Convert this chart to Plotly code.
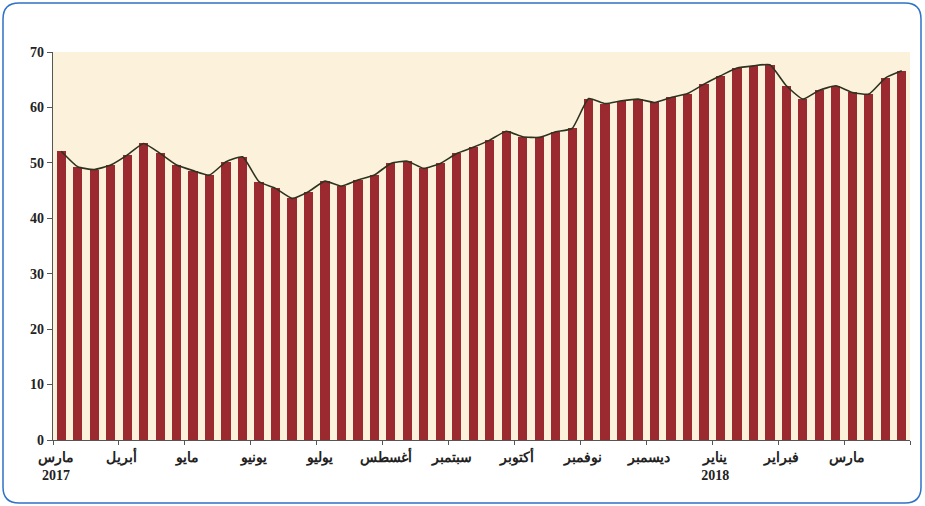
import plotly.graph_objects as go

# Weekly values, March 2017 - March 2018
values = [52.1, 49.3, 48.8, 49.6, 51.4, 53.5, 51.7, 49.6, 48.6, 47.8, 50.2, 51.1, 46.6,
          45.4, 43.6, 44.8, 46.7, 45.8, 46.9, 47.8, 49.9, 50.3, 49.0, 49.9, 51.7, 52.8,
          54.1, 55.7, 54.7, 54.6, 55.6, 56.2, 61.6, 60.7, 61.2, 61.5, 60.9, 61.8, 62.5,
          64.2, 65.7, 67.1, 67.5, 67.7, 63.9, 61.5, 63.1, 63.9, 62.7, 62.4, 65.3, 66.6]
month_labels = ["مارس<br>2017", "أبريل", "مايو", "يونيو", "يوليو", "أغسطس", "سبتمبر",
                "أكتوبر", "نوفمبر", "ديسمبر", "يناير<br>2018", "فبراير", "مارس", ""]
weeks_per_month = 4
y_ticks = [0, 10, 20, 30, 40, 50, 60, 70]

x = [i + 0.5 for i in range(len(values))]
tick_positions = [i * weeks_per_month for i in range(len(month_labels))]

W, H = 925, 506
L, R, T, B = 53, 15, 52, 66
pw, ph = W - L - R, H - T - B

fig = go.Figure()
fig.add_trace(go.Bar(x=x, y=values, width=0.56, marker=dict(color="#9B2A30", line=dict(width=0)),
                     hoverinfo="y"))
fig.add_trace(go.Scatter(x=x, y=values, mode="lines",
                         line=dict(color="#2E3320", width=1.6, shape="spline", smoothing=0.45),
                         hoverinfo="skip"))

# rounded frame
def px2paper(px, py):
    return (px - L) / pw, (H - B - py) / ph

x0, y0, x1, y1, r = 3, 3, 921, 503, 16
def P(px, py):
    a, b = px2paper(px, py)
    return f"{a:.5f},{b:.5f}"
path = (f"M {P(x0 + r, y0)} L {P(x1 - r, y0)} Q {P(x1, y0)} {P(x1, y0 + r)} "
        f"L {P(x1, y1 - r)} Q {P(x1, y1)} {P(x1 - r, y1)} "
        f"L {P(x0 + r, y1)} Q {P(x0, y1)} {P(x0, y1 - r)} "
        f"L {P(x0, y0 + r)} Q {P(x0, y0)} {P(x0 + r, y0)} Z")
fig.add_shape(type="path", path=path, xref="paper", yref="paper",
              line=dict(color="#2F72C8", width=1.5), layer="below")

font_ticks = dict(family="Liberation Serif", size=14, color="#222222")

fig.update_layout(
    width=W, height=H,
    margin=dict(l=L, r=R, t=T, b=B),
    paper_bgcolor="white",
    plot_bgcolor="#FCF2DC",
    showlegend=False,
    bargap=0,
    xaxis=dict(range=[0, len(values)], tickmode="array", tickvals=tick_positions,
               ticktext=[f"<b>{t}</b>" for t in month_labels],
               showgrid=False, zeroline=False, showline=True, linecolor="#555555", linewidth=1.2,
               ticks="outside", ticklen=4, tickcolor="#555555", tickfont=font_ticks,
               ticklabelshift=3),
    yaxis=dict(range=[0, 70], tickmode="array", tickvals=y_ticks,
               ticktext=[f"<b>{v}</b>" for v in y_ticks],
               showgrid=False, zeroline=False, showline=True, linecolor="#555555", linewidth=1.2,
               ticks="outside", ticklen=5, tickcolor="#555555", tickfont=font_ticks),
)

fig.write_html("out.html", config={"displayModeBar": False},
               post_script="document.body.style.margin='0';document.body.style.overflow='hidden';")
